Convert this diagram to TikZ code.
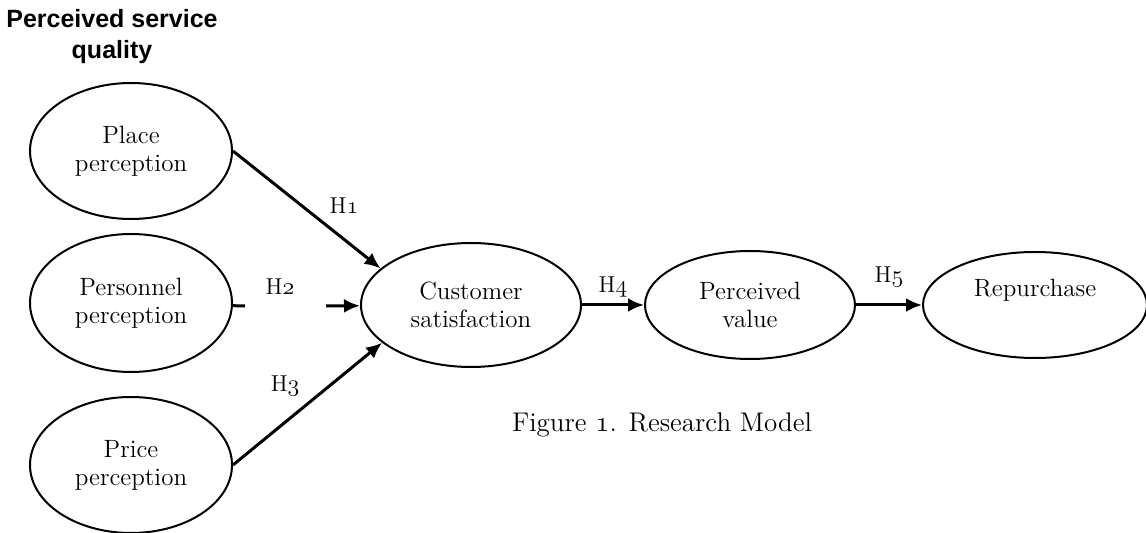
\documentclass[tikz,border=0pt]{standalone}
\usepackage{fontspec}
\newfontfamily\titlefont{Liberation Sans}
\usetikzlibrary{shapes.geometric}
\usetikzlibrary{arrows.meta}
\newcommand{\osnum}[1]{{\fontencoding{OML}\fontfamily{lmm}\fontseries{m}\fontshape{it}\selectfont #1}}
\newcommand{\hyp}[1]{H\osnum{#1}}
\tikzset{
   every path/.style={>={Latex[length=8pt,width=7pt]}},
   construct/.style={ellipse,draw,line width=1pt,align=center,inner sep=0pt,
      font=\fontsize{12.5}{14}\selectfont},
   link/.style={->,line width=1.5pt},
   hlab/.style={font=\fontsize{11.5}{13}\selectfont},
   heading/.style={align=center,font=\titlefont\bfseries\fontsize{12.5}{15.5}\selectfont},
}

\begin{document}
\begin{tikzpicture}[x=0.5pt,y=-0.5pt]
        \useasboundingbox (0,0) rectangle (1146,533);

        \node[heading] (psq) at (112,37) {Perceived service\\quality};

        \node[construct, minimum width=101pt, minimum height=68pt] (place) at (131,151) {Place\\perception};
        \node[construct, minimum width=101pt, minimum height=69pt] (pers) at (131,303) {Personnel\\perception};
        \node[construct, minimum width=101pt, minimum height=68pt] (price) at (131,465) {Price\\perception};

        \node[construct, minimum width=110pt, minimum height=62pt] (cust) at (471,305) {Customer\\satisfaction};
        \node[construct, minimum width=105pt, minimum height=54pt] (pval) at (750,305) {Perceived\\value};
        \node[construct, minimum width=112pt, minimum height=53pt, text depth=17pt] (rep) at (1035,305) {Repurchase};

        \coordinate (h2a) at (245,306);
        \coordinate (h2b) at (326,306);

        \draw[link] (place.east) -- node[pos=0.6, above right, hlab] {\hyp{1}} (cust.158);
        \draw[line width=1.5pt] (pers) -- (h2a);
        \node[hlab] (h2) at (280,287) {\hyp{2}};
        \draw[link] (h2b) -- (cust);
        \draw[link] (price.east) -- node[pos=0.5, above left, hlab] {\hyp{3}} (cust.203);

        \draw[link] (cust) -- node[above, hlab] {\hyp{4}} (pval);
        \draw[link] (pval) -- node[above=5pt, hlab] {\hyp{5}} (rep);

        \node[font=\fontsize{13.5}{15}\selectfont] (fig) at (662,425) {Figure \osnum{1}. Research Model};
      \end{tikzpicture}
\end{document}
